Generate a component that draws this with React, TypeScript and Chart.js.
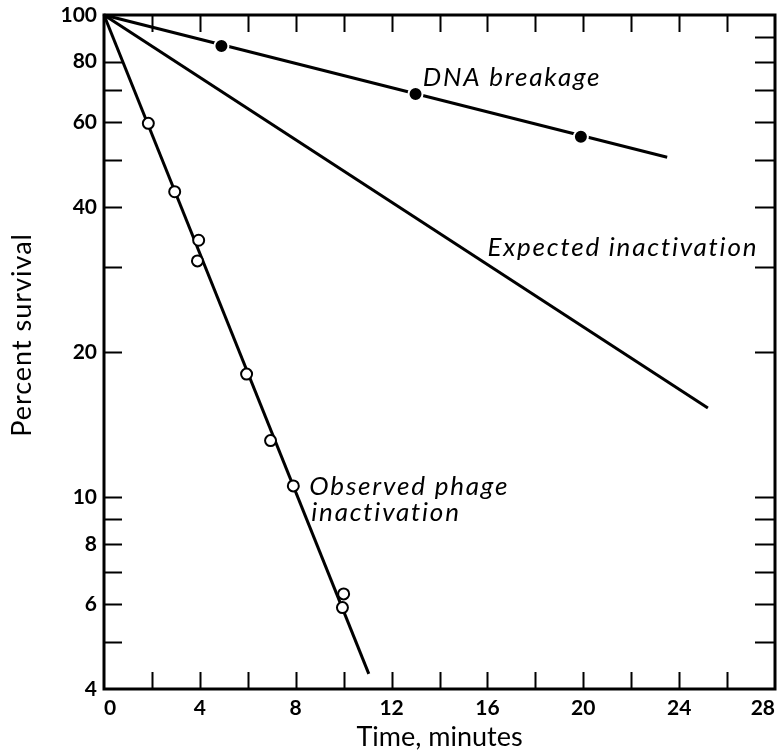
import React, { useEffect, useRef } from 'react';
import { Chart, registerables } from 'chart.js';
Chart.register(...registerables);

// Observed phage inactivation (open circles)
const obsTime = [1.85, 2.95, 3.95, 3.9, 5.95, 6.95, 7.9, 10.0, 9.95];
const obsSurvival = [59.6, 43.0, 34.1, 30.9, 18.0, 13.1, 10.55, 6.3, 5.9];
const obsFitTime = [0, 11.05];
const obsFitSurvival = [100, 4.3];
// DNA breakage (filled circles)
const dnaTime = [4.9, 13.0, 19.9];
const dnaSurvival = [86.2, 68.6, 55.9];
const dnaFitTime = [0, 23.5];
const dnaFitSurvival = [100, 50.7];
// Expected inactivation (line only)
const expTime = [0, 25.2];
const expSurvival = [100, 15.3];

// Axis ticks
const yTickValuesLeft = [4, 5, 6, 7, 8, 9, 10, 20, 30, 40, 50, 60, 70, 80, 100];
const yTickValuesRight = [4, 5, 6, 7, 8, 9, 10, 20, 30, 40, 50, 60, 70, 80, 90, 100];
const yTickLabels = [4, 6, 8, 10, 20, 40, 60, 80, 100];
const xTickValues = [0, 2, 4, 6, 8, 10, 12, 14, 16, 18, 20, 22, 24, 26, 28];
const xTickLabels = [0, 4, 8, 12, 16, 20, 24, 28];

const xTitle = 'Time, minutes';
const yTitle = 'Percent survival';
const yTitleAt = 21.7; // value on the y scale at which the title is centred

// Annotations (anchored in data coordinates)
const notes = [
  { text: 'DNA breakage', x: 13.3, y: 74 },
  { text: 'Expected inactivation', x: 16.0, y: 33.0 },
  { text: 'Observed phage', x: 8.57, y: 10.5 },
  { text: 'inactivation', x: 8.65, y: 9.3 },
];

const FONT = 'Lato, "Open Sans", sans-serif';

const pts = (xs: number[], ys: number[]) => xs.map((x, i) => ({ x, y: ys[i] }));

const framePlugin = {
  id: 'frameTicks',
  afterDatasetsDraw(chart: any) {
    const { ctx, chartArea, scales } = chart;
    const { left, right, top, bottom } = chartArea;
    const xs = scales.x;
    const ys = scales.y;
    ctx.save();
    ctx.strokeStyle = '#000';
    ctx.lineWidth = 2;
    ctx.beginPath();
    for (const v of xTickValues) {
      if (v === 0 || v === 28) continue;
      const px = Math.round(xs.getPixelForValue(v)) + 0.5;
      ctx.moveTo(px, bottom);
      ctx.lineTo(px, bottom - 17);
      ctx.moveTo(px, top);
      ctx.lineTo(px, top + 17);
    }
    for (const v of yTickValuesLeft) {
      if (v === 4 || v === 100) continue;
      const py = Math.round(ys.getPixelForValue(v)) + 0.5;
      ctx.moveTo(left, py);
      ctx.lineTo(left + 18, py);
    }
    for (const v of yTickValuesRight) {
      if (v === 4 || v === 100) continue;
      const py = Math.round(ys.getPixelForValue(v)) + 0.5;
      ctx.moveTo(right, py);
      ctx.lineTo(right - 20, py);
    }
    ctx.stroke();
    ctx.lineWidth = 3;
    ctx.strokeRect(left, top, right - left, bottom - top);

    ctx.fillStyle = '#000';
    (ctx as any).letterSpacing = '1.8px';
    ctx.font = 'italic 26px ' + FONT;
    ctx.textAlign = 'left';
    ctx.textBaseline = 'middle';
    for (const n of notes) {
      ctx.fillText(n.text, xs.getPixelForValue(n.x), ys.getPixelForValue(n.y));
    }

    // y-axis title
    (ctx as any).letterSpacing = '1px';
    ctx.font = '27px ' + FONT;
    ctx.textAlign = 'center';
    ctx.translate(22, ys.getPixelForValue(yTitleAt));
    ctx.rotate(-Math.PI / 2);
    ctx.fillText(yTitle, 0, 0);
    ctx.restore();
  },
};

export default function App() {
  const ref = useRef<HTMLCanvasElement | null>(null);
  useEffect(() => {
    document.body.style.margin = '0';
    const canvas = ref.current;
    if (!canvas) return;
    const lineDs = (xs: number[], ys: number[]) => ({
      type: 'line' as const,
      data: pts(xs, ys),
      borderColor: '#000',
      borderWidth: 3,
      pointRadius: 0,
      showLine: true,
      fill: false,
      clip: false as any,
      order: 2,
    });
    const chart = new Chart(canvas, {
      type: 'scatter',
      data: {
        datasets: [
          lineDs(obsFitTime, obsFitSurvival) as any,
          lineDs(dnaFitTime, dnaFitSurvival) as any,
          lineDs(expTime, expSurvival) as any,
          {
            label: 'Observed',
            data: pts(obsTime, obsSurvival),
            pointRadius: 5.5,
            pointBackgroundColor: '#fff',
            pointBorderColor: '#000',
            pointBorderWidth: 2,
            showLine: false,
            clip: false as any,
            order: 1,
          },
          {
            label: 'DNA',
            data: pts(dnaTime, dnaSurvival),
            pointRadius: 7,
            pointBackgroundColor: '#000',
            pointBorderColor: '#fff',
            pointBorderWidth: 2,
            showLine: false,
            clip: false as any,
            order: 1,
          },
        ],
      },
      options: {
        animation: false,
        responsive: false,
        layout: { padding: { left: 0, top: 15, right: 7, bottom: 0 } },
        plugins: { legend: { display: false }, tooltip: { enabled: false } },
        scales: {
          x: {
            type: 'linear',
            min: 0,
            max: 28,
            afterBuildTicks: (scale: any) => {
              scale.ticks = xTickLabels.map((v) => ({ value: v }));
            },
            afterFit: (scale: any) => {
              scale.height = 65;
              scale.paddingLeft = 0;
              scale.paddingRight = 0;
            },
            grid: { display: false, drawTicks: false },
            border: { display: false },
            ticks: {
              autoSkip: false,
              maxRotation: 0,
              align: 'inner',
              padding: 7,
              color: '#000',
              font: { family: FONT, size: 21, weight: 'bold' },
              callback: (v: any) => String(v),
            },
            title: {
              display: true,
              text: xTitle,
              color: '#000',
              font: { family: FONT, size: 27 },
              padding: { top: 0, bottom: 1 },
            },
          },
          y: {
            type: 'logarithmic',
            min: 4,
            max: 100,
            afterBuildTicks: (scale: any) => {
              scale.ticks = yTickLabels.map((v) => ({ value: v }));
            },
            afterFit: (scale: any) => {
              scale.width = 104;
              scale.paddingTop = 0;
              scale.paddingBottom = 0;
            },
            grid: { display: false, drawTicks: false },
            border: { display: false },
            ticks: {
              autoSkip: false,
              padding: 7,
              color: '#000',
              font: { family: FONT, size: 21, weight: 'bold' },
              callback: (v: any) => String(v),
            },
            title: { display: false },
          },
        },
      },
      plugins: [framePlugin],
    } as any);
    return () => chart.destroy();
  }, []);
  return <canvas ref={ref} width={784} height={754} style={{ display: 'block' }} />;
}
